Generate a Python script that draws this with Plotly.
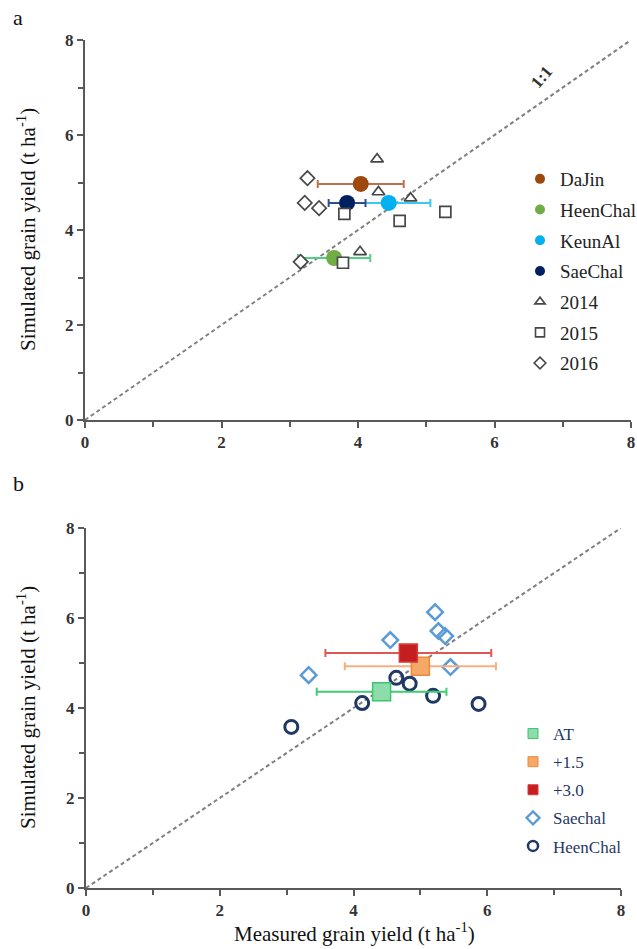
import plotly.graph_objects as go

W, H = 637, 949

# ---------- panel a: cultivar means and yearly values ----------
cultivars = ["DaJin", "HeenChal", "KeunAl", "SaeChal"]
cult_meas = [4.04, 3.65, 4.45, 3.84]
cult_sim = [4.97, 3.41, 4.57, 4.57]
cult_err = [0.63, 0.53, 0.61, 0.27]
cult_colors = ["#9E480E", "#70AD47", "#00B0F0", "#002060"]
cult_err_colors = ["#B8734A", "#4FD183", "#3CC8F5", "#2E4D8F"]

years = ["2014", "2015", "2016"]
year_symbols = ["triangle-up", "square", "diamond"]
meas_2014 = [4.28, 4.30, 4.77, 4.03]
sim_2014 = [5.49, 4.80, 4.67, 3.54]
meas_2015 = [3.80, 4.61, 5.28, 3.78]
sim_2015 = [4.34, 4.19, 4.38, 3.31]
meas_2016 = [3.26, 3.22, 3.43, 3.16]
sim_2016 = [5.09, 4.57, 4.46, 3.33]
year_meas = [meas_2014, meas_2015, meas_2016]
year_sim = [sim_2014, sim_2015, sim_2016]

# ---------- panel b: warming treatments and cultivar values ----------
treatments = ["AT", "+1.5", "+3.0"]
trt_meas = [4.42, 5.00, 4.82]
trt_sim = [4.36, 4.93, 5.22]
trt_err = [0.97, 1.13, 1.24]
trt_fill = ["#8EDCAC", "#F6A867", "#C41E1E"]
trt_line = ["#3CC46E", "#F0883A", "#D83A3A"]
trt_err_colors = ["#3ECB74", "#F6B080", "#E05555"]

saechal_meas = [3.33, 4.55, 5.22, 5.27, 5.37, 5.45]
saechal_sim = [4.73, 5.51, 6.13, 5.71, 5.60, 4.91]
heenchal_meas = [3.07, 4.13, 4.64, 4.84, 5.19, 5.87]
heenchal_sim = [3.58, 4.11, 4.67, 4.54, 4.27, 4.09]

one_to_one = [0, 8]
ticks = [0, 2, 4, 6, 8]

SERIF = "Liberation Serif"
AXIS_COLOR = "#595959"
GREY_MARK = "#474747"
NAVY = "#1F3864"
SAE_BLUE = "#5B9BD5"

fig = go.Figure()

# 1:1 lines
for xa, ya in (("x", "y"), ("x2", "y2")):
    fig.add_trace(go.Scatter(
        x=one_to_one, y=one_to_one, mode="lines", xaxis=xa, yaxis=ya,
        line=dict(color="#7F7F7F", width=2, dash="4px,3px"),
        showlegend=False, hoverinfo="skip"))

# panel a: cultivar means with error bars
for name, mx, sy, e, c, ec in zip(cultivars, cult_meas, cult_sim, cult_err,
                                   cult_colors, cult_err_colors):
    fig.add_trace(go.Scatter(
        x=[mx], y=[sy], mode="markers", name=name, xaxis="x", yaxis="y",
        showlegend=False,
        marker=dict(symbol="circle", size=16, color=c, line=dict(width=0)),
        error_x=dict(type="data", array=[e], color=ec, thickness=2, width=4)))

# panel a: yearly values
for yr, sym, mx, sy in zip(years, year_symbols, year_meas, year_sim):
    fig.add_trace(go.Scatter(
        x=mx, y=sy, mode="markers", name=yr, xaxis="x", yaxis="y",
        showlegend=False,
        marker=dict(symbol=sym, size=11, color="white",
                    line=dict(color=GREY_MARK, width=1.7))))

# panel b: cultivar values
fig.add_trace(go.Scatter(
    x=saechal_meas, y=saechal_sim, mode="markers", name="Saechal",
    xaxis="x2", yaxis="y2", showlegend=False,
    marker=dict(symbol="diamond-open", size=12, color=SAE_BLUE,
                line=dict(color=SAE_BLUE, width=2.5))))
fig.add_trace(go.Scatter(
    x=heenchal_meas, y=heenchal_sim, mode="markers", name="HeenChal",
    xaxis="x2", yaxis="y2", showlegend=False,
    marker=dict(symbol="circle-open", size=13, color=NAVY,
                line=dict(color=NAVY, width=3))))

# panel b: treatment means with error bars
for name, mx, sy, e, fc, lc, ec in zip(treatments, trt_meas, trt_sim, trt_err,
                                        trt_fill, trt_line, trt_err_colors):
    fig.add_trace(go.Scatter(
        x=[mx], y=[sy], mode="markers", name=name, xaxis="x2", yaxis="y2",
        showlegend=False,
        marker=dict(symbol="square", size=18, color=fc,
                    line=dict(color=lc, width=1.5)),
        error_x=dict(type="data", array=[e], color=ec, thickness=2, width=4)))


# legend entries with compact symbols
def legend_entry(name, legend, xa, ya, marker):
    fig.add_trace(go.Scatter(
        x=[None], y=[None], mode="markers", name=name, xaxis=xa, yaxis=ya,
        legend=legend, legendgroup=name, showlegend=True, marker=marker))


for name, c in zip(cultivars, cult_colors):
    legend_entry(name, "legend", "x", "y",
                 dict(symbol="circle", size=10, color=c, line=dict(width=0)))
for yr, sym in zip(years, year_symbols):
    legend_entry(yr, "legend", "x", "y",
                 dict(symbol=sym, size=9, color="white",
                      line=dict(color=GREY_MARK, width=1.6)))

for name, fc, lc in zip(treatments, trt_fill, trt_line):
    legend_entry(name, "legend2", "x2", "y2",
                 dict(symbol="square", size=10, color=fc,
                      line=dict(color=lc, width=1)))
legend_entry("Saechal", "legend2", "x2", "y2",
             dict(symbol="diamond-open", size=10, color=SAE_BLUE,
                  line=dict(color=SAE_BLUE, width=2.2)))
legend_entry("HeenChal", "legend2", "x2", "y2",
             dict(symbol="circle-open", size=10, color=NAVY,
                  line=dict(color=NAVY, width=2.5)))


def axis(domain, anchor):
    return dict(domain=domain, anchor=anchor, range=[0, 8], tickvals=ticks,
                showgrid=False, zeroline=False, showline=True,
                linecolor=AXIS_COLOR, linewidth=2, ticks="outside",
                ticklen=6, tickwidth=1.5, tickcolor=AXIS_COLOR,
                ticklabeloverflow="allow",
                minor=dict(dtick=1, ticks="outside", ticklen=5, tickwidth=1.5,
                           tickcolor=AXIS_COLOR, showgrid=False),
                tickfont=dict(family=SERIF, size=17, color="#333333",
                              weight="bold"),
                fixedrange=True)


def px_x(p):
    return p / W


def px_y(p):
    return 1 - p / H


fig.update_layout(
    width=W, height=H, margin=dict(l=0, r=0, t=0, b=0, autoexpand=False),
    paper_bgcolor="white", plot_bgcolor="white",
    font=dict(family=SERIF, color="#222222"),
    xaxis=axis([px_x(85), px_x(631)], "y"),
    yaxis=axis([px_y(420), px_y(40)], "x"),
    xaxis2=axis([px_x(86), px_x(621)], "y2"),
    yaxis2=axis([px_y(888), px_y(528)], "x2"),
    legend=dict(x=px_x(520), y=px_y(160), xanchor="left", yanchor="top",
                bgcolor="rgba(0,0,0,0)", tracegroupgap=3, itemwidth=30,
                traceorder="grouped",
                font=dict(family=SERIF, size=19, color="#222222")),
    legend2=dict(x=px_x(513), y=px_y(716), xanchor="left", yanchor="top",
                 bgcolor="rgba(0,0,0,0)", tracegroupgap=3, itemwidth=30,
                 traceorder="grouped",
                 font=dict(family=SERIF, size=17, color=NAVY)),
    showlegend=True,
)

TITLE_FONT = dict(family=SERIF, size=21, color="#111111")
annotations = [
    dict(text="a", x=px_x(18), y=px_y(18), xanchor="center", yanchor="middle",
         font=dict(family=SERIF, size=22, color="#111111")),
    dict(text="b", x=px_x(18), y=px_y(483), xanchor="center",
         yanchor="middle", font=dict(family=SERIF, size=22, color="#111111")),
    dict(text="Simulated grain yield (t ha<sup>-1</sup>)", x=px_x(26),
         y=px_y(230), textangle=-90, xanchor="center", yanchor="middle",
         font=TITLE_FONT),
    dict(text="Simulated grain yield (t ha<sup>-1</sup>)", x=px_x(26),
         y=px_y(708), textangle=-90, xanchor="center", yanchor="middle",
         font=TITLE_FONT),
    dict(text="Measured grain yield (t ha<sup>-1</sup>)", x=px_x(354),
         y=px_y(948), xanchor="center", yanchor="bottom", font=TITLE_FONT),
    dict(text="1:1", x=px_x(541), y=px_y(77), textangle=-50,
         xanchor="center", yanchor="middle",
         font=dict(family=SERIF, size=17, color="#333333", weight="bold")),
]
for a in annotations:
    a.update(xref="paper", yref="paper", showarrow=False)
fig.update_layout(annotations=annotations)

fig.write_html("out.html")
